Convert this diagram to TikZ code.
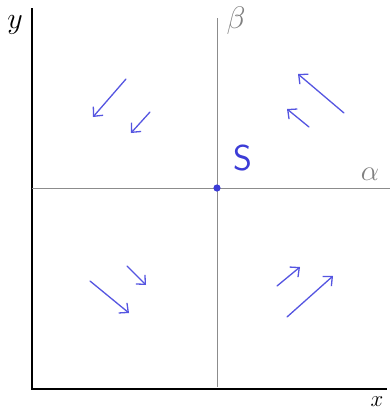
\documentclass[tikz,border=0pt]{standalone}
\usetikzlibrary{arrows.meta}
\begin{document}
\begin{tikzpicture}[x=1pt,y=-1pt,
  axis/.style={black,line width=1.4pt},
  guide/.style={gray!90,line width=0.9pt},
  flow/.style={draw={rgb,255:red,85;green,85;blue,225},line width=1.3pt,line cap=round,
    -{Straight Barb[length=7pt,width=13pt,line width=1.3pt]}},
  lbl/.style={inner sep=0pt}]
\definecolor{sblue}{RGB}{60,60,215}
\useasboundingbox (0,0) rectangle (390,413);
\fill[white] (0,0) rectangle (390,413);
% axes
\coordinate (O) at (32,389);
\coordinate (ytop) at (32,8);
\coordinate (xend) at (387,389);
\draw[axis] (ytop) -- (O) -- (xend);
\node[lbl] (ylab) at (15,25) {\scalebox{1.45}{\huge$y$}};
\node[lbl] (xlab) at (377,402) {\scalebox{1.1}{\huge$x$}};
% guide lines
\coordinate (btop) at (217,18);
\coordinate (bbot) at (217,387);
\coordinate (aleft) at (32,188);
\coordinate (aright) at (390,188);
\draw[guide] (btop) -- (bbot);
\draw[guide] (aleft) -- (aright);
\node[lbl,text=gray] (blab) at (236,21) {\scalebox{1.5}{\huge$\beta$}};
\node[lbl,text=gray] (alab) at (370,174) {\scalebox{1.4}{\huge$\alpha$}};
% point S
\fill[sblue] (217,188) circle (3.6);
\node[lbl,text=sblue] (S) at (243,158) {\fontsize{36}{36}\selectfont\sffamily S};
% flow arrows
\coordinate (a1) at (126,79); \coordinate (b1) at (93,117);
\coordinate (a2) at (150,112); \coordinate (b2) at (131,133);
\coordinate (a3) at (344,113); \coordinate (b3) at (298,74);
\coordinate (a4) at (309,127); \coordinate (b4) at (287,109);
\coordinate (a5) at (90,281); \coordinate (b5) at (129,313);
\coordinate (a6) at (127,266); \coordinate (b6) at (146,285);
\coordinate (a7) at (277,286); \coordinate (b7) at (300,267);
\coordinate (a8) at (287,317); \coordinate (b8) at (333,276);
\foreach \i in {1,...,8} \draw[flow] (a\i) -- (b\i);
\end{tikzpicture}
\end{document}
